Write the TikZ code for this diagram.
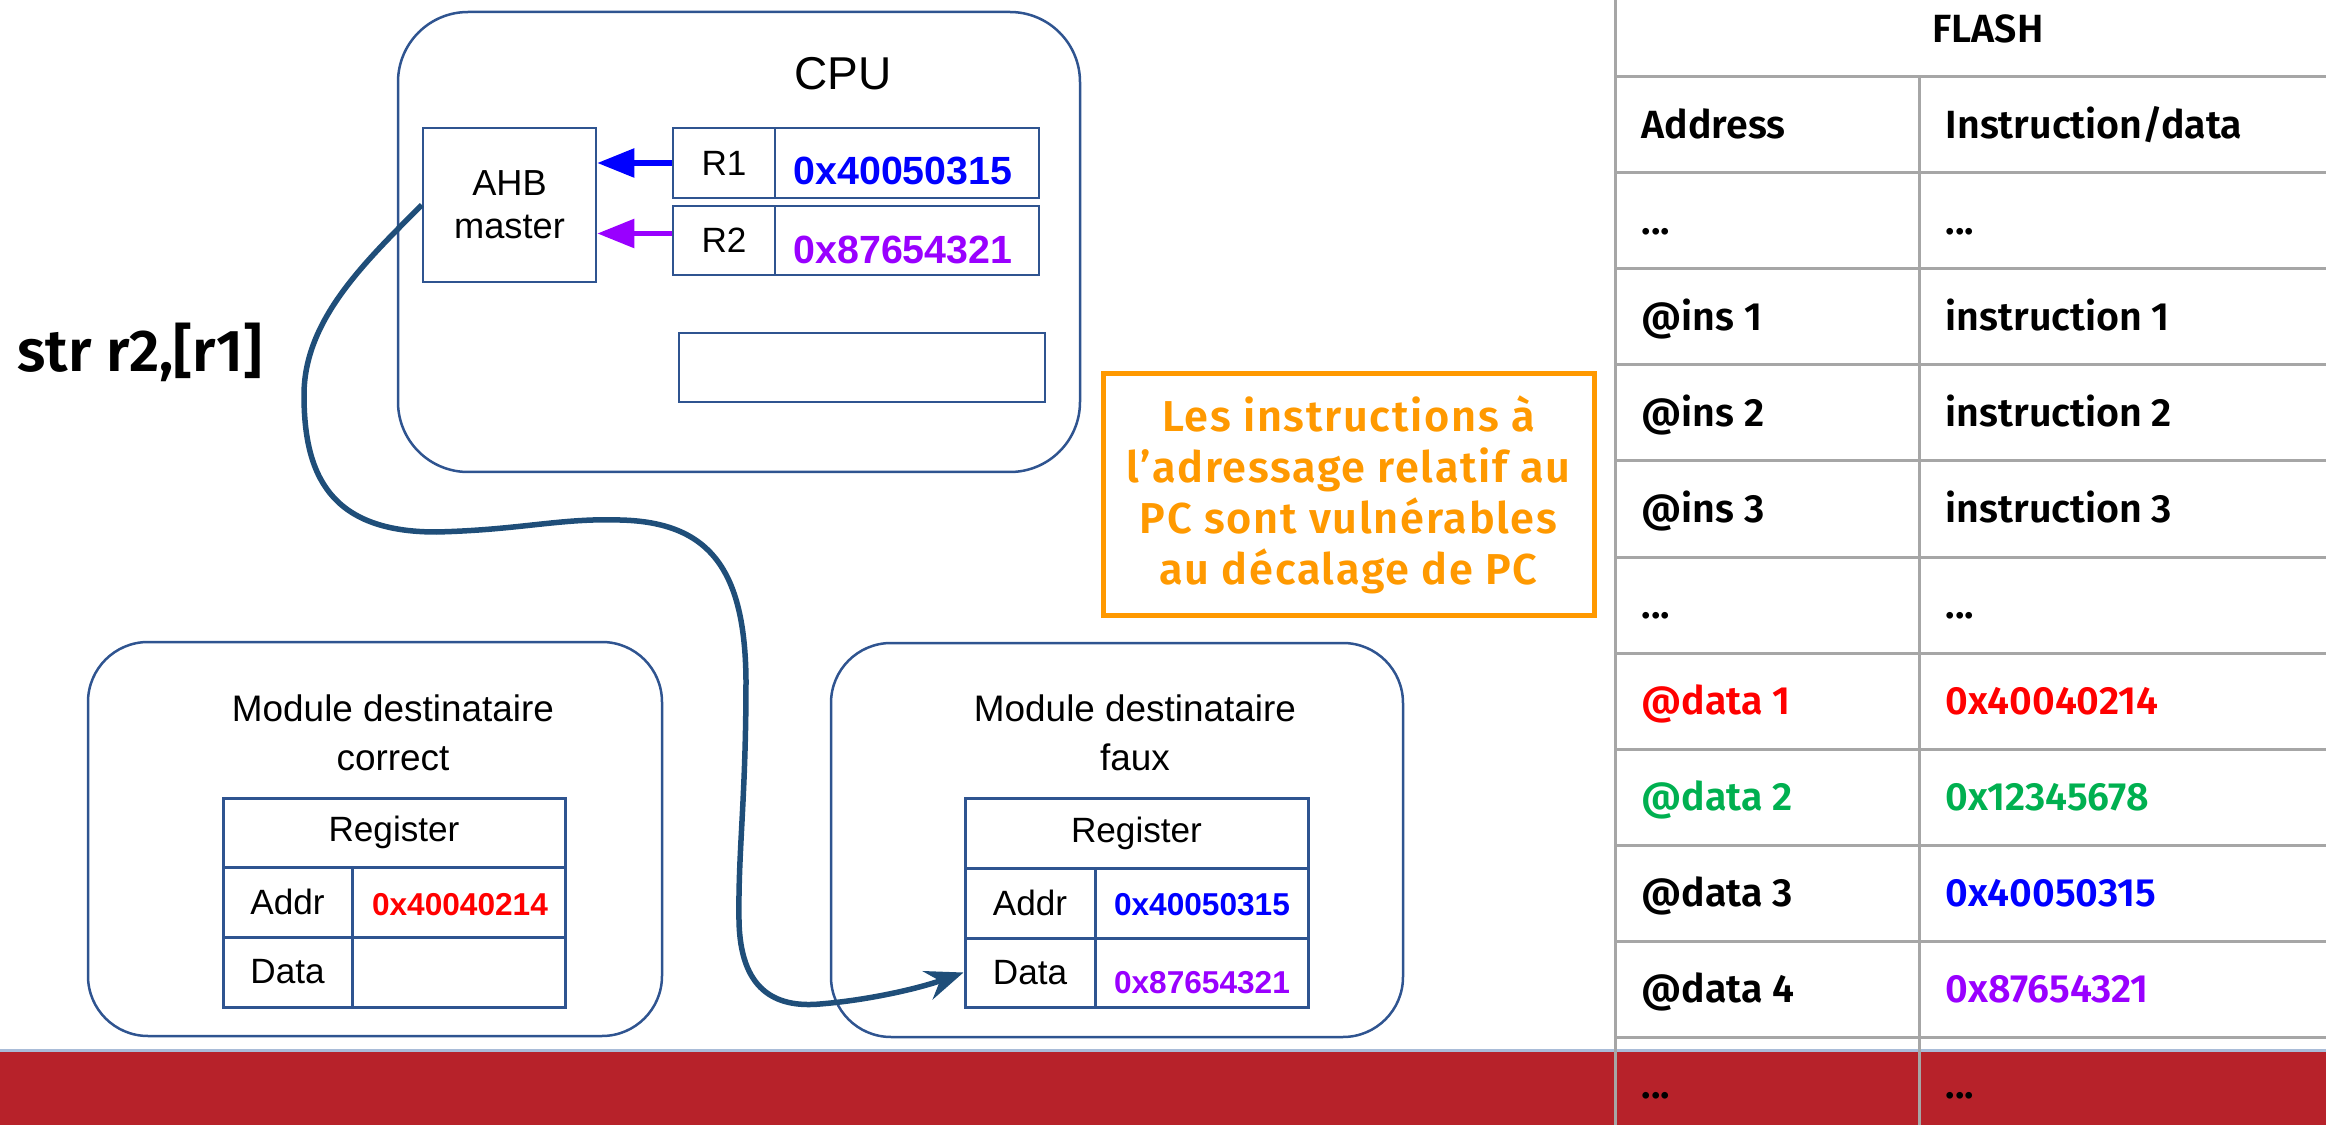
\documentclass[tikz,border=0pt]{standalone}
\usepackage{fontspec}
\setmainfont{Liberation Sans}
\newfontfamily\fira[BoldFont={Fira Sans SemiBold}]{Fira Sans}
\newfontfamily\firanote[BoldFont={Fira Sans SemiBold}, LetterSpace=4]{Fira Sans}
\usetikzlibrary{arrows.meta}

\definecolor{boxblue}{HTML}{2F5490}
\definecolor{curveblue}{HTML}{1F4E79}
\definecolor{regblue}{HTML}{0000FF}
\definecolor{regpurple}{HTML}{9900FF}
\definecolor{regred}{HTML}{FF0000}
\definecolor{reggreen}{HTML}{00B050}
\definecolor{noteorange}{HTML}{FF9900}
\definecolor{gridgray}{HTML}{A6A6A6}
\definecolor{barred}{HTML}{B7222A}
\definecolor{barline}{HTML}{A9BCD8}

\newcommand{\sz}[2]{\fontsize{#1}{#2}\selectfont}

\tikzset{
  module/.style={draw=boxblue, line width=0.25mm, rounded corners=6.5mm, inner sep=0pt},
  cellbox/.style={draw=boxblue, line width=0.25mm, inner sep=0pt, font=\sz{10pt}{12pt}},
  tablecell/.style={draw=boxblue, line width=0.3mm, inner sep=0pt, font=\sz{10pt}{12pt}},
  cpuval/.style={inner sep=0pt, font=\bfseries\sz{11.2pt}{12pt}},
  modval/.style={inner sep=0pt, font=\bfseries\sz{9pt}{11pt}},
  flashtxt/.style={inner sep=0pt, anchor=base west, font=\fira\bfseries\sz{11.2pt}{13pt}},
  gridline/.style={gridgray, line width=0.3mm},
  regarrow/.style={line width=0.55mm, -{Triangle[length=3.7mm,width=2.8mm]}},
  busarrow/.style={curveblue, line width=0.55mm, -{Stealth[length=3.8mm,width=3mm,inset=1.3mm]}}
}

\begin{document}
\begin{tikzpicture}[x=0.1mm, y=-0.1mm]
\useasboundingbox (0,0) rectangle (2326,1125);

% bottom band
\fill[barred] (0,1050) rectangle (2326,1125);
\draw[barline, line width=0.3mm] (0,1050) -- (2326,1050);

% ---------------- CPU ----------------
\node[module, rounded corners=7mm, minimum width=68.2mm, minimum height=46mm] (cpu) at (739,242) {};
\node[inner sep=0pt, font=\sz{13.1pt}{15pt}] (cpulbl) at (843,74) {CPU};

\node[cellbox, minimum width=17.3mm, minimum height=15.4mm, align=center,
      font=\sz{10.3pt}{12.2pt}] (ahb) at (509.5,205) {AHB\\master};

\node[cellbox, minimum width=10.2mm, minimum height=7mm] (r1) at (724,163) {R1};
\node[cellbox, minimum width=26.4mm, minimum height=7mm] (r1v) at (907,163) {};
\node[cpuval, text=regblue] (r1t) at (903,171) {0x40050315};

\node[cellbox, minimum width=10.2mm, minimum height=6.9mm] (r2) at (724,240.5) {R2};
\node[cellbox, minimum width=26.4mm, minimum height=6.9mm] (r2v) at (907,240.5) {};
\node[cpuval, text=regpurple] (r2t) at (903,250) {0x87654321};

\node[cellbox, minimum width=36.6mm, minimum height=6.9mm] (spare) at (862,367.5) {};

\coordinate (r2out) at ([yshift=0.7mm]r2.west);
\draw[regarrow, regblue] (r1.west) -- (ahb.east |- r1.west);
\draw[regarrow, regpurple] (r2out) -- (ahb.east |- r2out);

% instruction label
\node[inner sep=0pt, anchor=base west, font=\fira\bfseries\sz{16.8pt}{19pt}] (instr) at (17,372) {str r2,[r1]};

% ---------------- correct target module ----------------
\node[module, rounded corners=6mm, minimum width=57.4mm, minimum height=39.4mm] (modc) at (375,839) {};
\node[inner sep=0pt, align=center, font=\sz{10.5pt}{13.9pt}] (modct) at (393,733) {Module destinataire\\correct};

\node[tablecell, minimum width=34.2mm, minimum height=6.9mm] (creg) at (394,832.5) {Register};
\node[tablecell, minimum width=12.9mm, minimum height=7mm] (caddr) at (287.5,902) {Addr};
\node[tablecell, minimum width=21.3mm, minimum height=7mm] (caddrv) at (458.5,902) {};
\node[modval, text=regred] (caddrt) at (460,905) {0x40040214};
\node[tablecell, minimum width=12.9mm, minimum height=7mm] (cdata) at (287.5,972) {Data};
\node[tablecell, minimum width=21.3mm, minimum height=7mm] (cdatav) at (458.5,972) {};

% ---------------- wrong target module ----------------
\node[module, rounded corners=6mm, minimum width=57.2mm, minimum height=39.4mm] (modf) at (1117,840) {};
\node[inner sep=0pt, align=center, font=\sz{10.5pt}{13.9pt}] (modft) at (1135,733) {Module destinataire\\faux};

\node[tablecell, minimum width=34.3mm, minimum height=7mm] (freg) at (1136.5,833) {Register};
\node[tablecell, minimum width=13mm, minimum height=7mm] (faddr) at (1030,903) {Addr};
\node[tablecell, minimum width=21.3mm, minimum height=7mm] (faddrv) at (1201.5,903) {};
\node[modval, text=regblue] (faddrt) at (1202,905) {0x40050315};
\node[tablecell, minimum width=13mm, minimum height=6.9mm] (fdata) at (1030,972.5) {Data};
\node[tablecell, minimum width=21.3mm, minimum height=6.9mm] (fdatav) at (1201.5,972.5) {};
\node[modval, text=regpurple] (fdatat) at (1202,983) {0x87654321};

% bus transfer going to the wrong module
\draw[busarrow] (ahb.west)
  .. controls (365,262) and (304,320) .. (304,395)
  .. controls (304,475) and (330,532) .. (436,532)
  .. controls (520,530) and (560,518) .. (620,520)
  .. controls (710,522) and (745,570) .. (746,680)
  .. controls (746,800) and (738,850) .. (739,920)
  .. controls (740,990) and (775,1008) .. (820,1004)
  .. controls (870,1000) and (920,988) .. (fdata.west);

% note
\node[draw=noteorange, line width=0.5mm, minimum width=49.1mm, minimum height=24.3mm,
      inner sep=0pt, align=center, text=noteorange,
      font=\firanote\bfseries\sz{12.3pt}{14.5pt}] (note) at (1348.5,494.5)
  {Les instructions à\\l’adressage relatif au\\PC sont vulnérables\\au décalage de PC};

% ---------------- FLASH table ----------------
\draw[gridline] (1615,0) -- (1615,1125);
\draw[gridline] (1919,77) -- (1919,1125);
\foreach \k in {0,...,10}
  \draw[gridline] (1615,77+96*\k) -- (2326,77+96*\k);

\node[inner sep=0pt, anchor=base, font=\fira\bfseries\sz{11.2pt}{13pt}] (flash) at (1988,43) {FLASH};

\node[flashtxt] (a0) at (1641,138.5) {Address};
\node[flashtxt] (b0) at (1945,138.5) {Instruction/data};
\node[flashtxt] (a1) at (1641,234.5) {...};
\node[flashtxt] (b1) at (1945,234.5) {...};
\node[flashtxt] (a2) at (1641,330.5) {@ins 1};
\node[flashtxt] (b2) at (1945,330.5) {instruction 1};
\node[flashtxt] (a3) at (1641,426.5) {@ins 2};
\node[flashtxt] (b3) at (1945,426.5) {instruction 2};
\node[flashtxt] (a4) at (1641,522.5) {@ins 3};
\node[flashtxt] (b4) at (1945,522.5) {instruction 3};
\node[flashtxt] (a5) at (1641,618.5) {...};
\node[flashtxt] (b5) at (1945,618.5) {...};
\node[flashtxt, text=regred] (a6) at (1641,714.5) {@data 1};
\node[flashtxt, text=regred] (b6) at (1945,714.5) {0x40040214};
\node[flashtxt, text=reggreen] (a7) at (1641,810.5) {@data 2};
\node[flashtxt, text=reggreen] (b7) at (1945,810.5) {0x12345678};
\node[flashtxt] (a8) at (1641,906.5) {@data 3};
\node[flashtxt, text=regblue] (b8) at (1945,906.5) {0x40050315};
\node[flashtxt] (a9) at (1641,1002.5) {@data 4};
\node[flashtxt, text=regpurple] (b9) at (1945,1002.5) {0x87654321};
\node[flashtxt] (a10) at (1641,1098.5) {...};
\node[flashtxt] (b10) at (1945,1098.5) {...};
\end{tikzpicture}
\end{document}
